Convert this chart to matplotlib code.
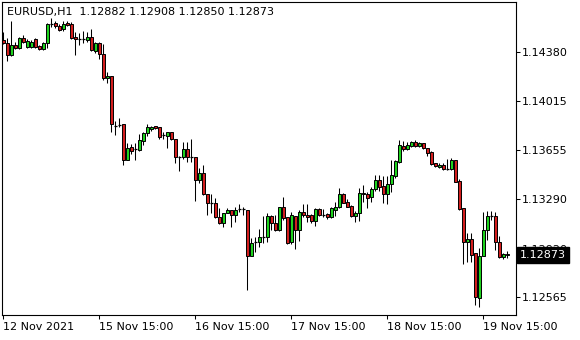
import matplotlib
matplotlib.use('Agg')
import matplotlib.pyplot as plt
from matplotlib.patches import Rectangle
import matplotlib.transforms as mtransforms

opens = [1.14471, 1.14449, 1.14360, 1.14434, 1.14412, 1.14486, 1.14419, 1.14419, 1.14478, 1.14426,
         1.14404, 1.14449, 1.14590, 1.14597, 1.14575, 1.14553, 1.14597, 1.14590, 1.14493, 1.14478,
         1.14478, 1.14471, 1.14493, 1.14389, 1.14449, 1.14367, 1.14189, 1.14204, 1.13835, 1.13840,
         1.13847, 1.13580, 1.13674, 1.13662, 1.13654, 1.13723, 1.13778, 1.13810, 1.13832, 1.13823,
         1.13763, 1.13760, 1.13786, 1.13734, 1.13600, 1.13600, 1.13659, 1.13604, 1.13604, 1.13431,
         1.13486, 1.13325, 1.13258, 1.13258, 1.13154, 1.13114, 1.13188, 1.13209, 1.13169, 1.13214,
         1.13214, 1.13209, 1.12869, 1.12973, 1.12973, 1.13010, 1.13010, 1.13164, 1.13110, 1.13060,
         1.13229, 1.13154, 1.12971, 1.13164, 1.13060, 1.13191, 1.13174, 1.13169, 1.13129, 1.13214,
         1.13174, 1.13179, 1.13159, 1.13209, 1.13229, 1.13327, 1.13270, 1.13238, 1.13166, 1.13184,
         1.13333, 1.13327, 1.13303, 1.13362, 1.13431, 1.13387, 1.13327, 1.13399, 1.13463, 1.13567,
         1.13684, 1.13659, 1.13684, 1.13711, 1.13684, 1.13704, 1.13667, 1.13637, 1.13555, 1.13526,
         1.13543, 1.13511, 1.13511, 1.13580, 1.13424, 1.13221, 1.12973, 1.12991, 1.12887, 1.12553,
         1.12867, 1.13060, 1.13166, 1.13164, 1.12973, 1.12857, 1.12882]
highs = [1.14530, 1.14486, 1.14612, 1.14456, 1.14493, 1.14508, 1.14478, 1.14471, 1.14486, 1.14434,
         1.14456, 1.14597, 1.14634, 1.14612, 1.14590, 1.14612, 1.14612, 1.14605, 1.14530, 1.14523,
         1.14538, 1.14530, 1.14553, 1.14456, 1.14456, 1.14441, 1.14233, 1.14204, 1.13872, 1.13892,
         1.13847, 1.13708, 1.13699, 1.13708, 1.13773, 1.13788, 1.13847, 1.13832, 1.13832, 1.13827,
         1.13790, 1.13786, 1.13790, 1.13734, 1.13610, 1.13716, 1.13716, 1.13734, 1.13604, 1.13518,
         1.13543, 1.13325, 1.13325, 1.13295, 1.13221, 1.13188, 1.13221, 1.13209, 1.13229, 1.13253,
         1.13233, 1.13209, 1.12998, 1.13010, 1.13065, 1.13164, 1.13188, 1.13171, 1.13171, 1.13229,
         1.13303, 1.13154, 1.13191, 1.13164, 1.13209, 1.13253, 1.13253, 1.13179, 1.13221, 1.13221,
         1.13214, 1.13188, 1.13229, 1.13270, 1.13370, 1.13337, 1.13290, 1.13246, 1.13201, 1.13370,
         1.13394, 1.13344, 1.13377, 1.13468, 1.13468, 1.13461, 1.13461, 1.13580, 1.13580, 1.13728,
         1.13723, 1.13716, 1.13723, 1.13728, 1.13716, 1.13708, 1.13667, 1.13647, 1.13560, 1.13555,
         1.13555, 1.13585, 1.13592, 1.13580, 1.13437, 1.13221, 1.13036, 1.13036, 1.12887, 1.12924,
         1.13196, 1.13203, 1.13203, 1.13196, 1.13016, 1.12887, 1.12908]
lows = [1.14441, 1.14315, 1.14352, 1.14404, 1.14404, 1.14449, 1.14412, 1.14412, 1.14412, 1.14397,
        1.14397, 1.14412, 1.14567, 1.14560, 1.14538, 1.14538, 1.14575, 1.14478, 1.14360, 1.14434,
        1.14449, 1.14456, 1.14389, 1.14374, 1.14330, 1.14174, 1.14152, 1.13790, 1.13763, 1.13827,
        1.13543, 1.13580, 1.13624, 1.13580, 1.13649, 1.13691, 1.13758, 1.13797, 1.13810, 1.13738,
        1.13734, 1.13667, 1.13728, 1.13560, 1.13500, 1.13585, 1.13567, 1.13567, 1.13278, 1.13407,
        1.13320, 1.13171, 1.13188, 1.13147, 1.13105, 1.13080, 1.13188, 1.13085, 1.13122, 1.13196,
        1.13171, 1.12615, 1.12869, 1.12899, 1.12936, 1.12961, 1.12973, 1.13060, 1.13055, 1.13055,
        1.13134, 1.12956, 1.12956, 1.12917, 1.12981, 1.13154, 1.13122, 1.13110, 1.13090, 1.13166,
        1.13154, 1.13140, 1.13151, 1.13166, 1.13221, 1.13258, 1.13233, 1.13159, 1.13122, 1.13129,
        1.13270, 1.13226, 1.13270, 1.13352, 1.13352, 1.13263, 1.13253, 1.13344, 1.13448, 1.13560,
        1.13649, 1.13654, 1.13674, 1.13679, 1.13674, 1.13659, 1.13610, 1.13543, 1.13526, 1.13518,
        1.13506, 1.13506, 1.13506, 1.13419, 1.13209, 1.12808, 1.12822, 1.12825, 1.12503, 1.12486,
        1.12867, 1.12986, 1.13134, 1.12912, 1.12850, 1.12842, 1.12850]
closes = [1.14449, 1.14360, 1.14434, 1.14412, 1.14486, 1.14456, 1.14464, 1.14456, 1.14419, 1.14404,
          1.14449, 1.14590, 1.14588, 1.14575, 1.14545, 1.14590, 1.14582, 1.14486, 1.14478, 1.14480,
          1.14476, 1.14493, 1.14397, 1.14449, 1.14367, 1.14189, 1.14204, 1.13847, 1.13833, 1.13838,
          1.13580, 1.13667, 1.13649, 1.13660, 1.13728, 1.13778, 1.13823, 1.13825, 1.13818, 1.13753,
          1.13761, 1.13786, 1.13734, 1.13600, 1.13598, 1.13659, 1.13604, 1.13602, 1.13431, 1.13486,
          1.13325, 1.13258, 1.13256, 1.13154, 1.13110, 1.13188, 1.13209, 1.13169, 1.13209, 1.13212,
          1.13212, 1.12869, 1.12961, 1.12975, 1.13006, 1.13012, 1.13164, 1.13110, 1.13060, 1.13229,
          1.13151, 1.12966, 1.13169, 1.13060, 1.13191, 1.13171, 1.13159, 1.13129, 1.13214, 1.13174,
          1.13172, 1.13159, 1.13221, 1.13229, 1.13327, 1.13263, 1.13233, 1.13166, 1.13184, 1.13333,
          1.13327, 1.13300, 1.13365, 1.13431, 1.13382, 1.13327, 1.13402, 1.13468, 1.13570, 1.13691,
          1.13664, 1.13691, 1.13711, 1.13686, 1.13704, 1.13667, 1.13634, 1.13550, 1.13535, 1.13543,
          1.13511, 1.13509, 1.13580, 1.13419, 1.13214, 1.12973, 1.12991, 1.12874, 1.12560, 1.12867,
          1.13060, 1.13164, 1.13164, 1.12973, 1.12857, 1.12882, 1.12873]

ytick_values = [1.12565, 1.12920, 1.13290, 1.13655, 1.14015, 1.14380]
ytick_labels = ['1.12565', '1.12920', '1.13290', '1.13655', '1.14015', '1.14380']
xtick_bars = [0, 24, 48, 72, 96, 120]
xtick_labels = ['12 Nov 2021', '15 Nov 15:00', '16 Nov 15:00', '17 Nov 15:00',
                '18 Nov 15:00', '19 Nov 15:00']
title_text = 'EURUSD,H1  1.12882 1.12908 1.12850 1.12873'
last_price = 1.12873
last_label = '1.12873'

bull_color = '#1ed21e'
bear_color = '#d21e1e'

W, H = 580, 340
fig = plt.figure(figsize=(W / 100, H / 100), dpi=100)
fig.patch.set_facecolor('white')
ax = fig.add_axes([2 / W, 25 / H, 514 / W, 313 / H])
ax.set_facecolor('white')

xs = list(range(len(opens)))
ax.vlines(xs, lows, highs, color='black', linewidth=0.75, zorder=2)
for i, (o, c) in enumerate(zip(opens, closes)):
    if abs(c - o) < 0.00003:
        ax.hlines(o, i - 0.42, i + 0.42, color='black', linewidth=0.9, zorder=3)
    else:
        col = bull_color if c > o else bear_color
        ax.add_patch(Rectangle((i - 0.38, min(o, c)), 0.76, abs(c - o),
                               facecolor=col, edgecolor='black', linewidth=0.7, zorder=3))

ax.set_xlim(-0.325, 128.175)
ax.set_ylim(1.124292, 1.147535)

ax.yaxis.tick_right()
ax.set_yticks(ytick_values)
ax.set_yticklabels(ytick_labels)
ax.set_xticks(xtick_bars)
ax.set_xticklabels(xtick_labels)
for lbl in ax.get_xticklabels():
    lbl.set_horizontalalignment('left')
ax.tick_params(axis='y', direction='out', length=3, width=0.75, pad=1.5,
               labelsize=8, colors='black')
ax.tick_params(axis='x', direction='out', length=3, width=0.75, pad=2,
               labelsize=8, colors='black')
for sp in ax.spines.values():
    sp.set_color('black')
    sp.set_linewidth(0.8)

trans = mtransforms.blended_transform_factory(ax.transAxes, ax.transData)
ax.text(1.0 + 4 / 514, last_price, last_label, transform=trans, ha='left', va='center',
        color='white', fontsize=8, zorder=10,
        bbox=dict(boxstyle='square,pad=0.25', facecolor='black', edgecolor='black'))

fig.text(7 / W, 1 - 12.5 / H, title_text, ha='left', va='center', fontsize=8, color='black')

fig.savefig('out.png', dpi=100, facecolor='white')
